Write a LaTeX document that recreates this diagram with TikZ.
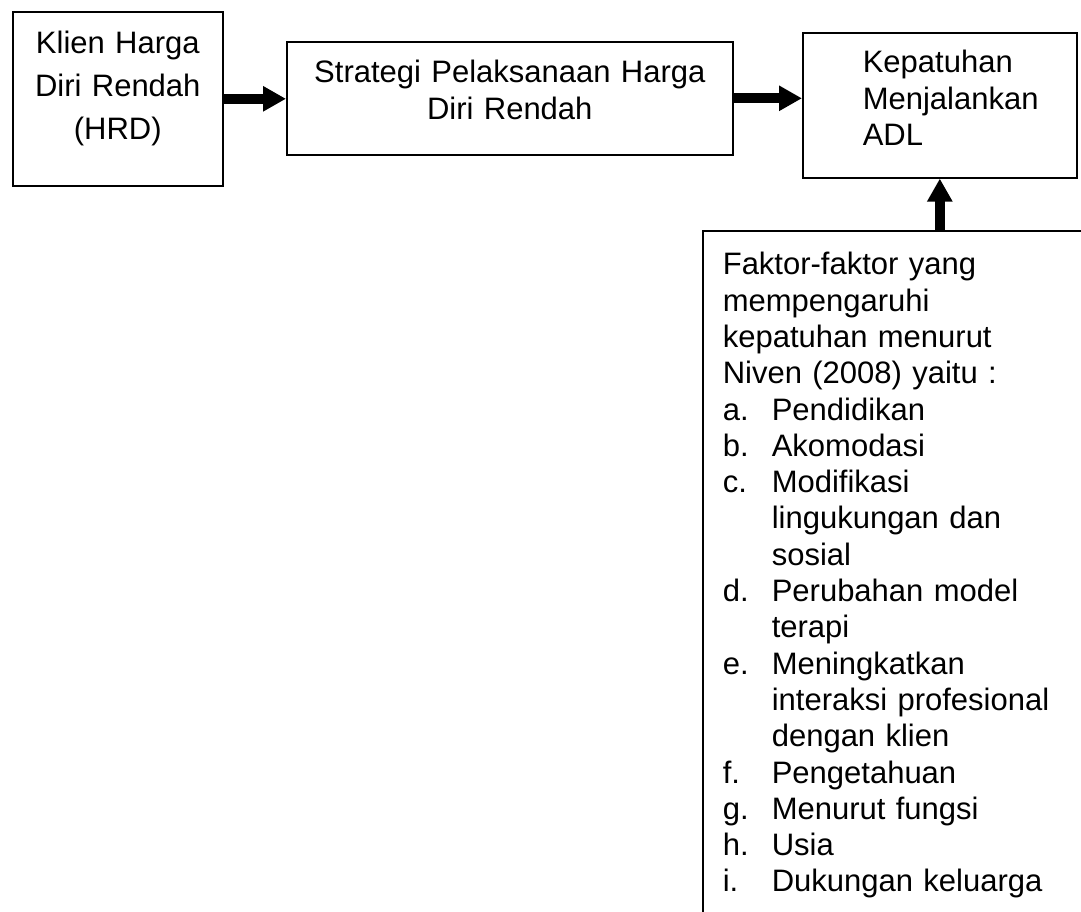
\documentclass[tikz,border=0pt]{standalone}
\usepackage{fontspec}
\setmainfont{Liberation Sans}
\usetikzlibrary{arrows.meta}
\newcommand{\butir}[1]{\makebox[49pt][l]{#1}}
\newcommand{\lanjut}{\hspace*{49pt}}

\begin{document}
\begin{tikzpicture}[x=1pt,y=-1pt,
      kotak/.style={draw,line width=1.6pt,inner sep=0pt,anchor=north west,
        font=\fontsize{31}{36.3}\selectfont},
      panah/.style={line width=10pt,-{Triangle[length=23pt,width=24pt]}}]
    \useasboundingbox (0,0) rectangle (1081,911);
    \clip (0,0) rectangle (1081,911);
    % --- baris atas ---
    \node[kotak,text width=210pt,align=center,text height=42pt,text depth=132pt,
      font=\fontsize{31}{43}\selectfont] (klien) at (12,11)
      {Klien Harga\\Diri Rendah\\(HRD)};
    \node[kotak,text width=446pt,align=center,text height=41pt,text depth=72pt]
      (strategi) at (286,41) {Strategi Pelaksanaan Harga\\Diri Rendah};
    \node[kotak,text width=274pt,align=left,text height=40pt,text depth=105pt]
      (kepatuhan) at (802,32) {\leftskip=60pt Kepatuhan\\Menjalankan\\ADL\par};
    % --- faktor (terpotong di tepi) ---
    \node[kotak,text width=398pt,align=left,text height=44pt,text depth=656pt]
      (faktor) at (702,230)
      {\leftskip=20pt Faktor-faktor yang\\mempengaruhi\\kepatuhan menurut\\
       Niven (2008) yaitu :\\
       \butir{a.}Pendidikan\\
       \butir{b.}Akomodasi\\
       \butir{c.}Modifikasi\\\lanjut lingukungan dan\\\lanjut sosial\\
       \butir{d.}Perubahan model\\\lanjut terapi\\
       \butir{e.}Meningkatkan\\\lanjut interaksi profesional\\\lanjut dengan klien\\
       \butir{f.}Pengetahuan\\
       \butir{g.}Menurut fungsi\\
       \butir{h.}Usia\\
       \butir{i.}Dukungan keluarga\par};
    % --- panah ---
    \draw[panah] (klien.east) -- (klien.east -| strategi.west);
    \draw[panah] (strategi.east) -- (strategi.east -| kepatuhan.west);
    \draw[panah] (faktor.north -| kepatuhan.south) -- (kepatuhan.south);
  \end{tikzpicture}
\end{document}
